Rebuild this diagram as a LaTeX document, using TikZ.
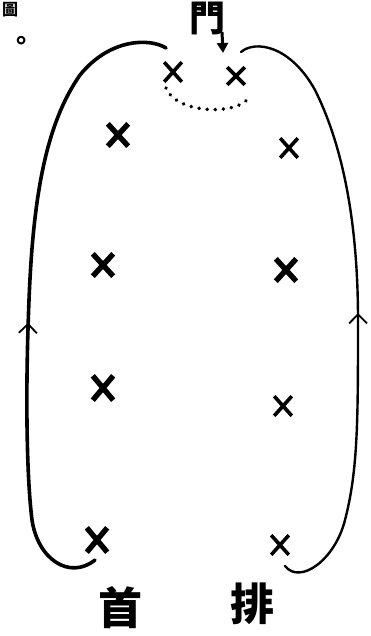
\documentclass[tikz,border=0pt]{standalone}
\usepackage{fontspec}
\newfontfamily\cjk{Noto Sans CJK TC}
\usetikzlibrary{shapes.misc,arrows.meta,decorations.markings}
\tikzset{
  mark x/.style={cross out,draw=black,line width=5.4pt,minimum width=15pt,minimum height=17pt,inner sep=0pt},
  mark xt/.style={cross out,draw=black,line width=3.6pt,minimum width=14pt,minimum height=16pt,inner sep=0pt},
  hand/.style={line width=3.6pt,line cap=round},
  handthin/.style={line width=2.4pt,line cap=round},
  chartext/.style={font=\cjk\bfseries\fontsize{44}{44}\selectfont,inner sep=0pt},
  upmark/.style={postaction={decorate,decoration={markings,mark=at position #1 with {\arrowreversed[line width=1.8pt]{Straight Barb[length=9pt,width=18pt]}}}}}
}
\begin{document}
\begin{tikzpicture}[x=1pt,y=-1pt]
\useasboundingbox (0,0) rectangle (371,636);
% title fragments
\node[font=\cjk\bfseries\fontsize{16}{16}\selectfont,inner sep=0pt] (tu) at (10,10) {圖};
\node[font=\cjk\bfseries\fontsize{26}{26}\selectfont,inner sep=0pt] (ju) at (22,43) {。};
% door
\node[chartext,font=\cjk\bfseries\fontsize{36}{36}\selectfont] (men) at (207,18) {門};
\coordinate (mtip) at (223,53);
\draw[line width=3pt,-{Triangle[length=10pt,width=11pt]}] (222,32) -- (mtip);
% x marks
\node[mark xt] (a1) at (173,72) {};
\node[mark xt,minimum height=14pt] (b1) at (236,76) {};
\node[mark x] (a2) at (118,135) {};
\node[mark xt] (b2) at (289,148) {};
\node[mark x] (a3) at (103,265) {};
\node[mark x] (b3) at (286,270) {};
\node[mark x,minimum height=19pt] (a4) at (103,388) {};
\node[mark xt] (b4) at (283,406) {};
\node[mark x,minimum height=19pt] (a5) at (97,540) {};
\node[mark xt] (b5) at (280,545) {};
% dotted arc
\draw[line width=3.8pt,dash pattern=on 0.1pt off 8pt,line cap=round] (166,88) .. controls (175,112) and (230,116) .. (247,100);
% left loop
\draw[hand,upmark=0.55] (166,48) .. controls (150,38) and (110,38) .. (80,75)
  .. controls (45,125) and (33,200) .. (29,300)
  .. controls (25,400) and (27,480) .. (32,520)
  .. controls (38,560) and (70,580) .. (95,560);
% right loop
\draw[handthin,upmark=0.52] (241,52) .. controls (255,40) and (290,45) .. (315,90)
  .. controls (345,150) and (358,230) .. (358,320)
  .. controls (358,420) and (358,470) .. (345,520)
  .. controls (335,560) and (300,585) .. (285,566);
% bottom labels
\node[chartext] (shou) at (120,608) {首};
\node[chartext] (pai) at (252,604) {排};
\end{tikzpicture}
\end{document}
